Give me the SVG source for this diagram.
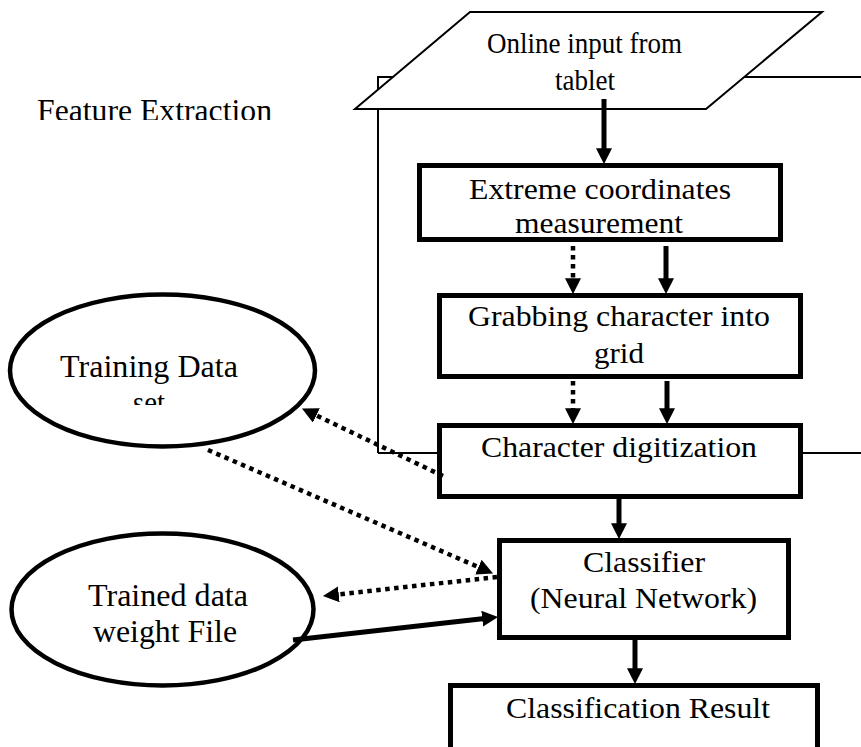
<svg xmlns="http://www.w3.org/2000/svg" width="861" height="747" viewBox="0 0 861 747">
<style>
text{font-family:'Liberation Serif','DejaVu Serif',serif;fill:#000;text-anchor:middle}
.box{fill:#fff;stroke:#000;stroke-width:5}
.thin{fill:none;stroke:#000;stroke-width:2}
.ell{fill:#fff;stroke:#000;stroke-width:4.5}
.solid{fill:none;stroke:#000;stroke-width:5;marker-end:url(#ah)}
.dot{fill:none;stroke:#000;stroke-width:4.5;stroke-dasharray:4.5 4.5;marker-end:url(#ah)}
</style>
<defs>
<marker id="ah" markerUnits="userSpaceOnUse" markerWidth="16" markerHeight="16" refX="6" refY="7" orient="auto" viewBox="0 0 14 14">
<path d="M0,0 L14,7 L0,14 z" fill="#000"/>
</marker>
<clipPath id="clipFE"><rect x="0" y="60" width="350" height="60"/></clipPath>
<clipPath id="clipSet"><rect x="0" y="280" width="350" height="125"/></clipPath>
</defs>
<rect width="861" height="747" fill="#fff"/>

<g id="feature-extraction">
<path class="thin" d="M378,453 V77 H870 M378,453 H870"/>
<text x="154.5" y="121" font-size="31" textLength="235" lengthAdjust="spacingAndGlyphs" clip-path="url(#clipFE)">Feature Extraction</text>
</g>

<g id="online-input">
<polygon points="470,12 822,12 706,109 355,109" fill="#fff" stroke="#000" stroke-width="2"/>
<text x="584.5" y="53" font-size="29" textLength="195" lengthAdjust="spacingAndGlyphs">Online input from</text>
<text x="585" y="90" font-size="29" textLength="60" lengthAdjust="spacingAndGlyphs">tablet</text>
</g>

<g id="extreme">
<rect class="box" x="419.5" y="165.5" width="361" height="74"/>
<text x="600" y="199" font-size="30" textLength="262" lengthAdjust="spacingAndGlyphs">Extreme coordinates</text>
<text x="599" y="233" font-size="30" textLength="168" lengthAdjust="spacingAndGlyphs">measurement</text>
</g>

<g id="grabbing">
<rect class="box" x="439.5" y="295.5" width="361" height="81"/>
<text x="619" y="326" font-size="30" textLength="302" lengthAdjust="spacingAndGlyphs">Grabbing character into</text>
<text x="619" y="363" font-size="30" textLength="50" lengthAdjust="spacingAndGlyphs">grid</text>
</g>

<g id="digitization">
<rect class="box" x="439.5" y="425.5" width="361" height="71"/>
<text x="619" y="457" font-size="30" textLength="276" lengthAdjust="spacingAndGlyphs">Character digitization</text>
</g>

<g id="classifier">
<rect class="box" x="499.5" y="540.5" width="289" height="97"/>
<text x="644" y="572" font-size="30" textLength="122" lengthAdjust="spacingAndGlyphs">Classifier</text>
<text x="643.5" y="608" font-size="30" textLength="227" lengthAdjust="spacingAndGlyphs">(Neural Network)</text>
</g>

<g id="result">
<rect class="box" x="450.5" y="685.5" width="367" height="80"/>
<text x="638" y="718" font-size="30" textLength="264" lengthAdjust="spacingAndGlyphs">Classification Result</text>
</g>

<g id="training-data">
<ellipse class="ell" cx="162.5" cy="370.5" rx="152.5" ry="76"/>
<text x="149" y="377" font-size="32" textLength="178" lengthAdjust="spacingAndGlyphs">Training Data</text>
<text x="149" y="413" font-size="32" textLength="32" lengthAdjust="spacingAndGlyphs" clip-path="url(#clipSet)">set</text>
</g>

<g id="trained-weights">
<ellipse class="ell" cx="162.5" cy="609.5" rx="151" ry="76"/>
<text x="168" y="606" font-size="32" textLength="160" lengthAdjust="spacingAndGlyphs">Trained data</text>
<text x="165" y="642" font-size="32" textLength="144" lengthAdjust="spacingAndGlyphs">weight File</text>
</g>

<g id="connectors">
<path class="solid" d="M604,99 V155"/>
<path class="dot" d="M573,246 V285"/>
<path class="solid" d="M666,246 V285"/>
<path class="dot" d="M573,381 V415"/>
<path class="solid" d="M667,381 V415"/>
<path class="solid" d="M619,499 V530"/>
<path class="solid" d="M635,640 V675"/>
<path class="dot" d="M443,476 L310.2,412.5"/>
<path class="dot" d="M208,450 L484.7,569.8"/>
<path class="dot" d="M497,577 L332,595.1"/>
<path class="solid" d="M293,640 L489,617.9"/>
</g>
</svg>
